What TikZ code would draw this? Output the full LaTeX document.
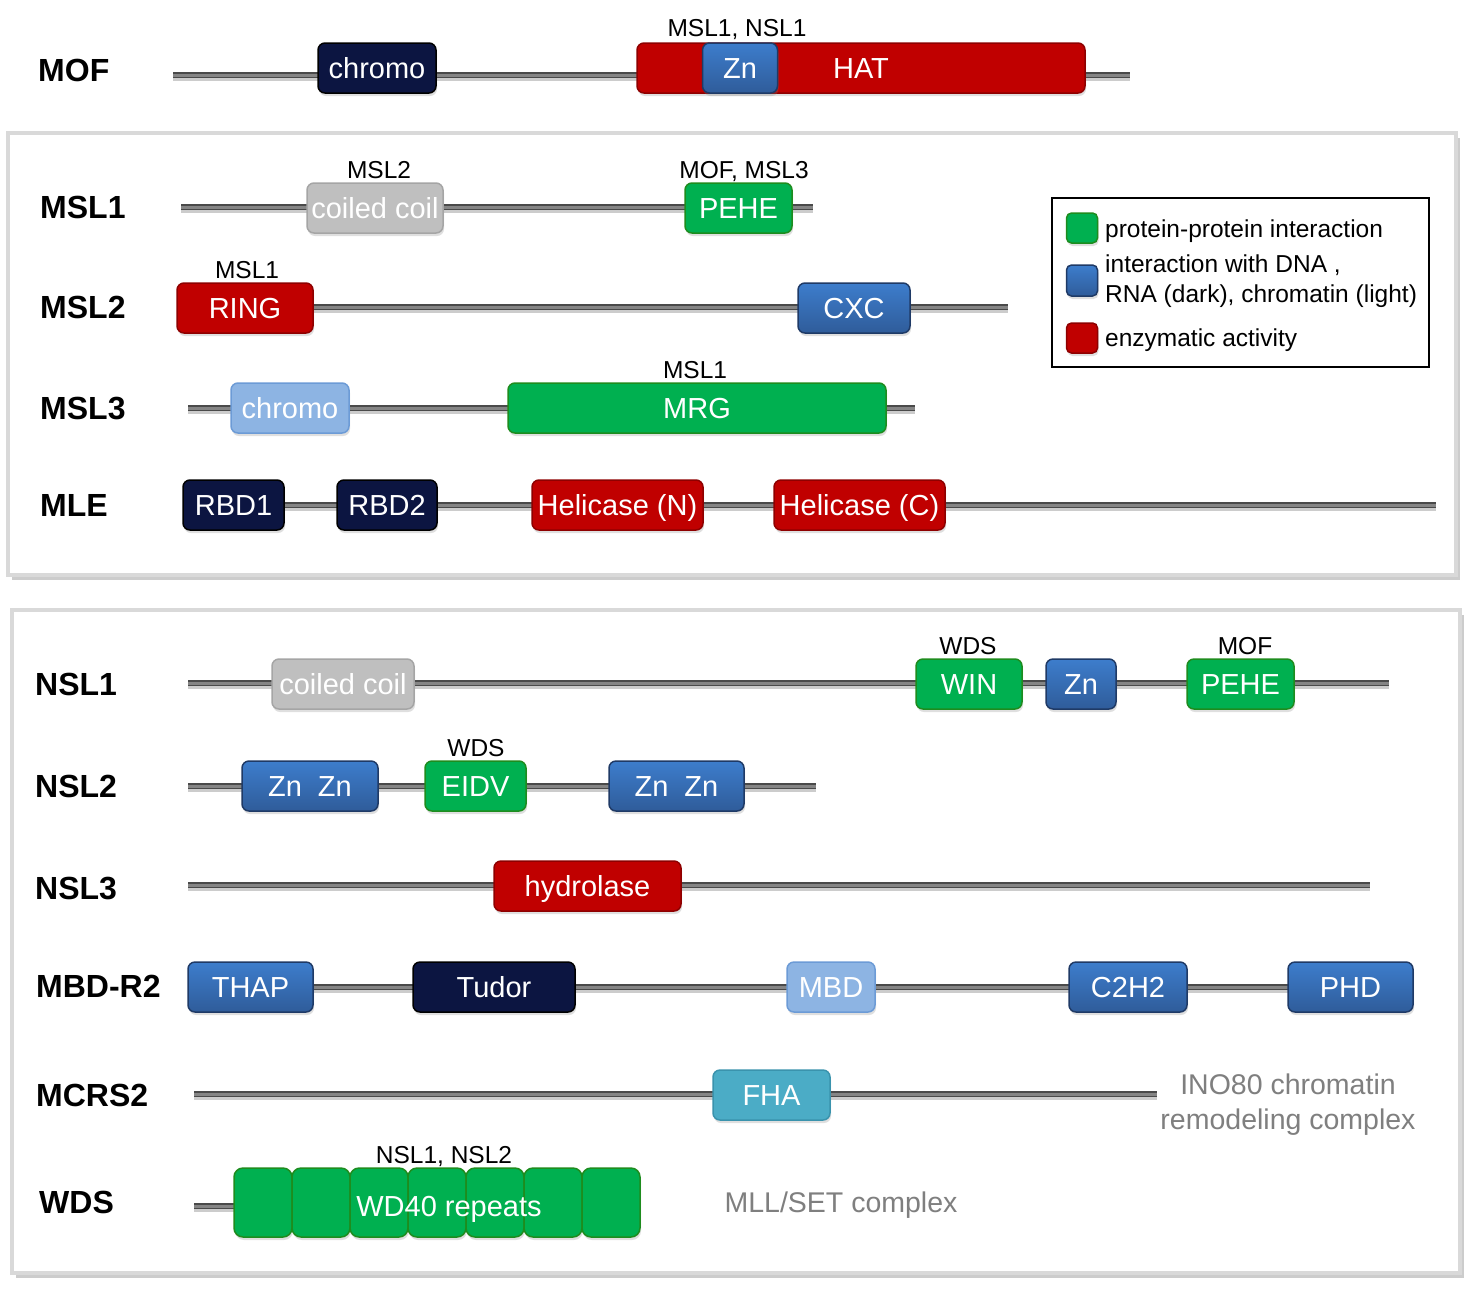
\documentclass[tikz,border=0pt]{standalone}
\usepackage{fontspec}
\setmainfont{Liberation Sans}
\usetikzlibrary{shadows}
\definecolor{navyc}{HTML}{0C1541}
\definecolor{redc}{HTML}{C00000}
\definecolor{redd}{HTML}{8E0000}
\definecolor{bluet}{HTML}{3D7DCC}
\definecolor{blueb}{HTML}{2F5C9A}
\definecolor{blued}{HTML}{1F3A66}
\definecolor{lblue}{HTML}{8DB4E3}
\definecolor{lblued}{HTML}{6C9BD6}
\definecolor{greenc}{HTML}{00B050}
\definecolor{greend}{HTML}{1E8C1E}
\definecolor{grayc}{HTML}{BFBFBF}
\definecolor{grayd}{HTML}{A5A5A5}
\definecolor{tealc}{HTML}{4BACC6}
\definecolor{teald}{HTML}{3A93AD}
\definecolor{bbdark}{HTML}{4A4A4A}
\definecolor{bblight}{HTML}{858585}
\definecolor{panelb}{HTML}{D9D9D9}
\definecolor{cplxc}{HTML}{7F7F7F}
\tikzset{
  dom/.style={rounded corners=7pt, line width=1.5pt, inner sep=0pt, minimum height=50pt,
    text=white, font=\fontsize{29}{34}\selectfont, text height=20.8pt, text depth=0pt,
    drop shadow={opacity=0.25, shadow xshift=1pt, shadow yshift=-3pt}},
  navybox/.style={dom, fill=navyc, draw=black},
  redbox/.style={dom, fill=redc, draw=redd},
  bluebox/.style={dom, top color=bluet, bottom color=blueb, draw=blued},
  lbluebox/.style={dom, fill=lblue, draw=lblued},
  greenbox/.style={dom, fill=greenc, draw=greend},
  graybox/.style={dom, fill=grayc, draw=grayd},
  tealbox/.style={dom, fill=tealc, draw=teald},
  bb/.style={draw=bbdark, line width=6.5pt, preaction={draw=black!20, line width=6pt, transform canvas={yshift=-2.5pt}},
    postaction={draw=bblight, line width=3pt}},
  rowlab/.style={anchor=west, inner sep=0pt, font=\fontsize{32}{37}\selectfont\bfseries,
    text height=23pt, text depth=0pt},
  lab/.style={anchor=base, inner sep=0pt, font=\fontsize{24.5}{29}\selectfont},
  legtxt/.style={anchor=west, inner sep=0pt, font=\fontsize{24.5}{29}\selectfont,
    text height=17.5pt, text depth=0pt},
  cplx/.style={inner sep=0pt, text=cplxc, font=\fontsize{28.5}{34}\selectfont,
    text height=20.5pt, text depth=0pt},
  panel/.style={draw=panelb, line width=4pt, fill=white,
    drop shadow={opacity=0.4, shadow xshift=3.5pt, shadow yshift=-4.5pt}},
}
\begin{document}
\begin{tikzpicture}[x=1pt, y=-1pt]
\useasboundingbox (0,0) rectangle (1475,1288);
\fill[white] (0,0) rectangle (1475,1288);

% ---------- MOF ----------
\node[rowlab] (lmof) at (38,70) {MOF};
\coordinate (mofA) at (173,75);
\coordinate (mofB) at (1130,75);
\draw[bb] (mofA) -- (mofB);
\node[navybox, minimum width=118pt] (mofchromo) at (377,68) {chromo};
\node[redbox, minimum width=448pt] (mofhat) at (861,68) {HAT};
\node[bluebox, minimum width=75pt] (mofzn) at (740,68) {Zn};
\node[lab] (lmofhat) at (737,36) {MSL1, NSL1};

% ---------- Panel 1 ----------
\path[panel] (8,133) rectangle (1456,575);

% MSL1
\node[rowlab] (lmsl1) at (40,207) {MSL1};
\coordinate (msl1A) at (181,207);
\coordinate (msl1B) at (813,207);
\draw[bb] (msl1A) -- (msl1B);
\node[graybox, minimum width=136pt] (msl1cc) at (375,208) {coiled coil};
\node[greenbox, minimum width=107pt] (msl1pehe) at (738.5,208) {PEHE};
\node[lab] (lmsl1cc) at (379,178) {MSL2};
\node[lab] (lmsl1pehe) at (744,178) {MOF, MSL3};

% MSL2
\node[rowlab] (lmsl2) at (40,307) {MSL2};
\coordinate (msl2A) at (300,307);
\coordinate (msl2B) at (1008,307);
\draw[bb] (msl2A) -- (msl2B);
\node[redbox, minimum width=136pt] (msl2ring) at (245,308) {RING};
\node[bluebox, minimum width=112pt] (msl2cxc) at (854,308) {CXC};
\node[lab] (lmsl2ring) at (247,278) {MSL1};

% MSL3
\node[rowlab] (lmsl3) at (40,408) {MSL3};
\coordinate (msl3A) at (188,408);
\coordinate (msl3B) at (915,408);
\draw[bb] (msl3A) -- (msl3B);
\node[lbluebox, minimum width=118pt] (msl3chromo) at (290,408) {chromo};
\node[greenbox, minimum width=378pt] (msl3mrg) at (697,408) {MRG};
\node[lab] (lmsl3mrg) at (695,378) {MSL1};

% MLE
\node[rowlab] (lmle) at (40,505) {MLE};
\coordinate (mleA) at (200,505);
\coordinate (mleB) at (1436,505);
\draw[bb] (mleA) -- (mleB);
\node[navybox, minimum width=101pt] (mlerbd1) at (233.5,505) {RBD1};
\node[navybox, minimum width=100pt] (mlerbd2) at (387,505) {RBD2};
\node[redbox, minimum width=171pt] (mlehn) at (617.5,505) {Helicase (N)};
\node[redbox, minimum width=171pt] (mlehc) at (859.5,505) {Helicase (C)};

% Legend
\draw[line width=2pt] (1052,198) rectangle (1429,367);
\node[greenbox, minimum width=31pt, minimum height=30pt, rounded corners=5pt] (sgreen) at (1082,228) {};
\node[bluebox, minimum width=31pt, minimum height=31pt, rounded corners=5pt] (sblue) at (1082,280.5) {};
\node[redbox, minimum width=31pt, minimum height=30pt, rounded corners=5pt] (sred) at (1082,338) {};
\node[legtxt] (tgreen) at (1105,229) {protein-protein interaction};
\node[legtxt] (tblue1) at (1105,264) {interaction with DNA ,};
\node[legtxt] (tblue2) at (1105,294) {RNA (dark), chromatin (light)};
\node[legtxt] (tred) at (1105,338) {enzymatic activity};

% ---------- Panel 2 ----------
\path[panel] (12,610) rectangle (1460,1273);

% NSL1
\node[rowlab] (lnsl1) at (35,684) {NSL1};
\coordinate (nsl1A) at (188,683);
\coordinate (nsl1B) at (1389,683);
\draw[bb] (nsl1A) -- (nsl1B);
\node[graybox, minimum width=142pt] (nsl1cc) at (343,684) {coiled coil};
\node[greenbox, minimum width=106pt] (nsl1win) at (969,684) {WIN};
\node[bluebox, minimum width=70pt] (nsl1zn) at (1081,684) {Zn};
\node[greenbox, minimum width=107pt] (nsl1pehe) at (1240.5,684) {PEHE};
\node[lab] (lnsl1win) at (968,654) {WDS};
\node[lab] (lnsl1pehe) at (1245,654) {MOF};

% NSL2
\node[rowlab] (lnsl2) at (35,786) {NSL2};
\coordinate (nsl2A) at (188,786);
\coordinate (nsl2B) at (816,786);
\draw[bb] (nsl2A) -- (nsl2B);
\node[bluebox, minimum width=136pt] (nsl2zn1) at (310,786) {Zn\hspace{0.55em}Zn};
\node[greenbox, minimum width=101pt] (nsl2eidv) at (475.5,786) {EIDV};
\node[bluebox, minimum width=135pt] (nsl2zn2) at (676.5,786) {Zn\hspace{0.55em}Zn};
\node[lab] (lnsl2eidv) at (476,756) {WDS};

% NSL3
\node[rowlab] (lnsl3) at (35,888) {NSL3};
\coordinate (nsl3A) at (188,885);
\coordinate (nsl3B) at (1370,885);
\draw[bb] (nsl3A) -- (nsl3B);
\node[redbox, minimum width=187pt] (nsl3hyd) at (587.5,886) {hydrolase};

% MBD-R2
\node[rowlab] (lmbd) at (36,986) {MBD-R2};
\coordinate (mbdA) at (300,987);
\coordinate (mbdB) at (1300,987);
\draw[bb] (mbdA) -- (mbdB);
\node[bluebox, minimum width=125pt] (mbdthap) at (250.5,987) {THAP};
\node[navybox, minimum width=162pt] (mbdtudor) at (494,987) {Tudor};
\node[lbluebox, minimum width=88pt] (mbdmbd) at (831,987) {MBD};
\node[bluebox, minimum width=118pt] (mbdc2h2) at (1128,987) {C2H2};
\node[bluebox, minimum width=125pt] (mbdphd) at (1350.5,987) {PHD};

% MCRS2
\node[rowlab] (lmcrs) at (36,1095) {MCRS2};
\coordinate (mcrsA) at (194,1094);
\coordinate (mcrsB) at (1157,1094);
\draw[bb] (mcrsA) -- (mcrsB);
\node[tealbox, minimum width=117pt] (mcrsfha) at (771.5,1095) {FHA};
\node[cplx] (cino1) at (1288,1084) {INO80 chromatin};
\node[cplx] (cino2) at (1288,1119) {remodeling complex};

% WDS
\node[rowlab] (lwds) at (39,1202) {WDS};
\coordinate (wdsA) at (194,1206);
\coordinate (wdsB) at (240,1206);
\draw[bb] (wdsA) -- (wdsB);
\foreach \i in {0,...,6} {
  \node[greenbox, minimum width=58pt, minimum height=69pt, rounded corners=9pt] (wd\i) at (263+58*\i,1202.5) {};
}
\node[inner sep=0pt, text=white, font=\fontsize{29}{34}\selectfont, text height=20.8pt, text depth=0pt] (wdtxt) at (449,1206) {WD40 repeats};
\node[lab] (lwd) at (444,1163) {NSL1, NSL2};
\node[cplx] (cmll) at (841,1202) {MLL/SET complex};
\end{tikzpicture}
\end{document}
